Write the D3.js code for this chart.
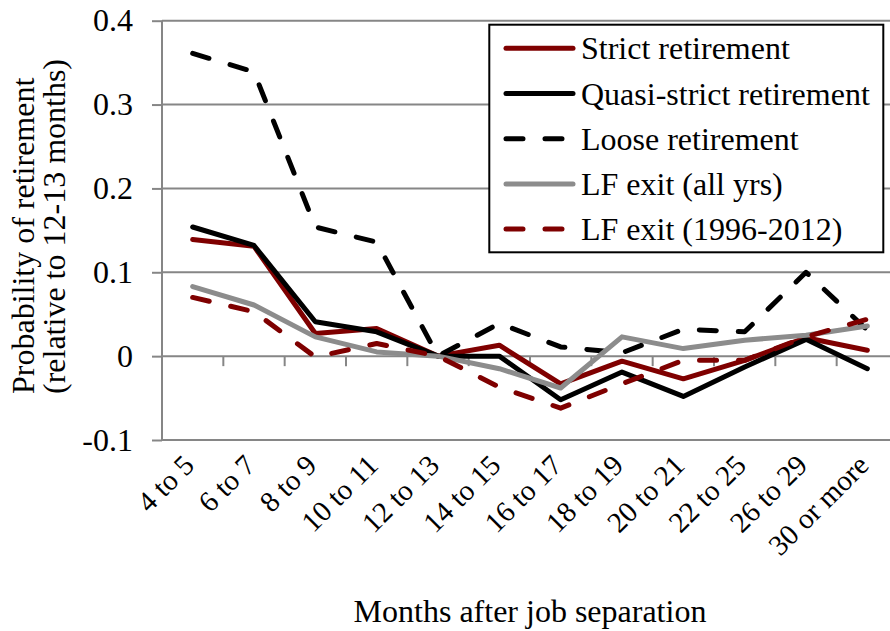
<!DOCTYPE html>
<html>
<head>
<meta charset="utf-8">
<script src="https://cdn.jsdelivr.net/npm/d3@7"></script>
<style>
  html, body { margin: 0; padding: 0; background: #fff; }
  svg { display: block; }
  text { font-family: "Liberation Serif", "Times New Roman", serif; fill: #000; }
</style>
</head>
<body>
<svg id="chart" width="890" height="631"></svg>
<script>
const categories = ["4 to 5", "6 to 7", "8 to 9", "10 to 11", "12 to 13", "14 to 15",
  "16 to 17", "18 to 19", "20 to 21", "22 to 25", "26 to 29", "30 or more"];
const strictRet = [0.139, 0.131, 0.027, 0.033, 0, 0.013, -0.033, -0.006, -0.027, -0.005, 0.022, 0.007];
const quasiStrictRet = [0.154, 0.132, 0.041, 0.029, 0, 0.000, -0.052, -0.019, -0.048, -0.013, 0.020, -0.015];
const looseRet = [0.361, 0.339, 0.154, 0.136, 0, 0.039, 0.011, 0.004, 0.032, 0.029, 0.100, 0.031];
const lfExitAll = [0.083, 0.061, 0.023, 0.005, 0, -0.015, -0.038, 0.023, 0.009, 0.019, 0.025, 0.036];
const lfExit9612 = [0.070, 0.053, -0.001, 0.015, 0, -0.037, -0.062, -0.033, -0.005, -0.005, 0.023, 0.044];
const yTicks = [-0.1, 0, 0.1, 0.2, 0.3, 0.4];
const yTickLabels = ["-0.1", "0", "0.1", "0.2", "0.3", "0.4"];
const seriesNames = ["Strict retirement", "Quasi-strict retirement", "Loose retirement",
  "LF exit (all yrs)", "LF exit (1996-2012)"];

const series = [
  { name: seriesNames[0], values: strictRet, color: "#7f0000", dash: null },
  { name: seriesNames[1], values: quasiStrictRet, color: "#000000", dash: null },
  { name: seriesNames[2], values: looseRet, color: "#000000", dash: "17,22" },
  { name: seriesNames[3], values: lfExitAll, color: "#8c8c8c", dash: null },
  { name: seriesNames[4], values: lfExit9612, color: "#7f0000", dash: "17,22" }
];

const svg = d3.select("#chart");
const pLeft = 162, pRight = 898, pTop = 20.7, pBottom = 440;
const gridColor = "#868686";

const x = d3.scaleBand().domain(categories).range([pLeft, pRight]).padding(0);
const y = d3.scaleLinear().domain([-0.1, 0.4]).range([pBottom, pTop]);
const cx = c => x(c) + x.bandwidth() / 2;

// gridlines
svg.append("g").selectAll("line").data(yTicks).join("line")
  .attr("x1", pLeft).attr("x2", pRight)
  .attr("y1", d => y(d)).attr("y2", d => y(d))
  .attr("stroke", gridColor).attr("stroke-width", 2);

// y axis
const yAxis = svg.append("g").attr("transform", `translate(${pLeft},0)`)
  .call(d3.axisLeft(y).tickValues(yTicks).tickSize(10).tickPadding(19)
    .tickFormat((d, i) => yTickLabels[i]));
yAxis.select(".domain").attr("stroke", gridColor).attr("stroke-width", 2)
  .attr("d", `M0,${pTop}V${pBottom}`);
yAxis.selectAll(".tick line").attr("stroke", gridColor).attr("stroke-width", 2);
yAxis.selectAll(".tick text").attr("font-size", 32)
  .style("font-family", "'Liberation Serif', serif").attr("fill", "#000");

// x axis at y = 0 with ticks between categories
const xAxis = svg.append("g").attr("transform", `translate(0,${y(0)})`);
const boundaries = categories.map(c => x(c)).concat([x(categories[categories.length - 1]) + x.bandwidth()]);
xAxis.selectAll("line").data(boundaries.slice(1)).join("line")
  .attr("x1", d => d).attr("x2", d => d).attr("y1", 0).attr("y2", 10)
  .attr("stroke", gridColor).attr("stroke-width", 2);

// x labels (rotated)
svg.append("g").selectAll("text").data(categories).join("text")
  .attr("transform", d => `translate(${cx(d) + 3},${467}) rotate(-45)`)
  .attr("text-anchor", "end")
  .attr("font-size", 29)
  .text(d => d);

// lines
const line = d3.line().x((d, i) => cx(categories[i])).y(d => y(d));
svg.append("g").selectAll("path").data(series).join("path")
  .attr("d", s => line(s.values))
  .attr("fill", "none")
  .attr("stroke", s => s.color)
  .attr("stroke-width", 5)
  .attr("stroke-linejoin", "round")
  .attr("stroke-linecap", "round")
  .attr("stroke-dasharray", s => s.dash);

// legend
const lg = svg.append("g");
lg.append("rect").attr("x", 489.3).attr("y", 24.7).attr("width", 394).attr("height", 227.6)
  .attr("fill", "#fff").attr("stroke", "#000").attr("stroke-width", 2);
const rows = lg.selectAll("g.row").data(series).join("g").attr("class", "row")
  .attr("transform", (d, i) => `translate(0,${48.3 + i * 45.2})`);
rows.append("line").attr("x1", 506).attr("x2", 573).attr("y1", 0).attr("y2", 0)
  .attr("stroke", d => d.color).attr("stroke-width", 5)
  .attr("stroke-linecap", "round").attr("stroke-dasharray", d => d.dash);
rows.append("text").attr("x", 581).attr("y", 11).attr("font-size", 32).text(d => d.name);

// y title
const yt = svg.append("text").attr("transform", "translate(34,394) rotate(-90)")
  .attr("font-size", 32).attr("text-anchor", "start");
yt.append("tspan").attr("x", 0).attr("y", 0).text("Probability of retirement");
yt.append("tspan").attr("x", 0).attr("y", 31).text("(relative to 12-13 months)");

// x title
svg.append("text").attr("x", 530).attr("y", 622).attr("text-anchor", "middle")
  .attr("font-size", 32).text("Months after job separation");
</script>
</body>
</html>
